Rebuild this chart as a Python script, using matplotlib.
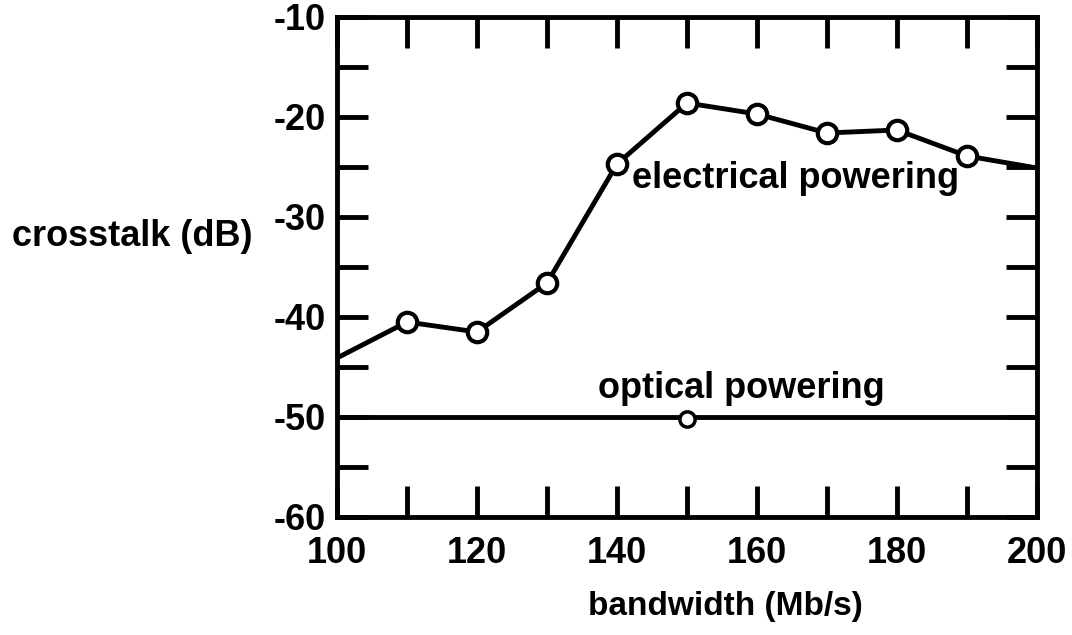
import matplotlib
matplotlib.use('Agg')
import matplotlib.pyplot as plt

plt.rcParams['font.family'] = ['Liberation Sans', 'DejaVu Sans']
plt.rcParams['font.weight'] = 'bold'

# electrical powering curve
elec_bw = [100, 110, 120, 130, 140, 150, 160, 170, 180, 190, 200]
elec_xt = [-44.1, -40.5, -41.5, -36.6, -24.7, -18.6, -19.7, -21.6, -21.3, -23.9, -25.1]
elec_marked = [110, 120, 130, 140, 150, 160, 170, 180, 190]

# optical powering (flat line with one measured point)
opt_bw = [100, 200]
opt_xt = [-50, -50]
opt_pt_bw = [150]
opt_pt_xt = [-50.2]

x_ticks = list(range(100, 201, 10))
x_labels = ['100', '', '120', '', '140', '', '160', '', '180', '', '200']
y_ticks = list(range(-60, -9, 5))
y_labels = ['-60', '', '-50', '', '-40', '', '-30', '', '-20', '', '-10']

fig = plt.figure(figsize=(10.72, 6.35), dpi=100)
ax = fig.add_axes([337 / 1072, 1 - 517 / 635, 700 / 1072, 500 / 635])

ax.plot(elec_bw, elec_xt, color='black', lw=3.5, zorder=3)
idx = [elec_bw.index(b) for b in elec_marked]
ax.plot([elec_bw[i] for i in idx], [elec_xt[i] for i in idx], 'o', ms=14,
        mfc='white', mec='black', mew=3, zorder=4)
ax.plot(opt_bw, opt_xt, color='black', lw=3.5, zorder=3)
ax.plot(opt_pt_bw, opt_pt_xt, 'o', ms=11, mfc='white', mec='black', mew=2.5, zorder=4)

ax.text(165.5, -26.2, 'electrical powering', fontsize=26, fontweight='bold',
        ha='center', va='center')
ax.text(157.7, -47.1, 'optical powering', fontsize=26, fontweight='bold',
        ha='center', va='center')

ax.set_xlim(100, 200)
ax.set_ylim(-60, -10)
ax.set_xticks(x_ticks)
ax.set_xticklabels(x_labels)
ax.set_yticks(y_ticks)
ax.set_yticklabels(y_labels)
ax.tick_params(direction='in', length=22, width=3.5, labelsize=26,
               top=True, right=True)
ax.tick_params(axis='x', pad=14)
ax.tick_params(axis='y', pad=8)
for s in ax.spines.values():
    s.set_linewidth(3.5)

fig.text(725 / 1072, 1 - 606 / 635, 'bandwidth (Mb/s)', fontsize=24,
         fontweight='bold', ha='center', va='center')
fig.text(12 / 1072, 1 - 236 / 635, 'crosstalk (dB)', fontsize=26,
         fontweight='bold', ha='left', va='center')

fig.savefig('out.png', dpi=100)
